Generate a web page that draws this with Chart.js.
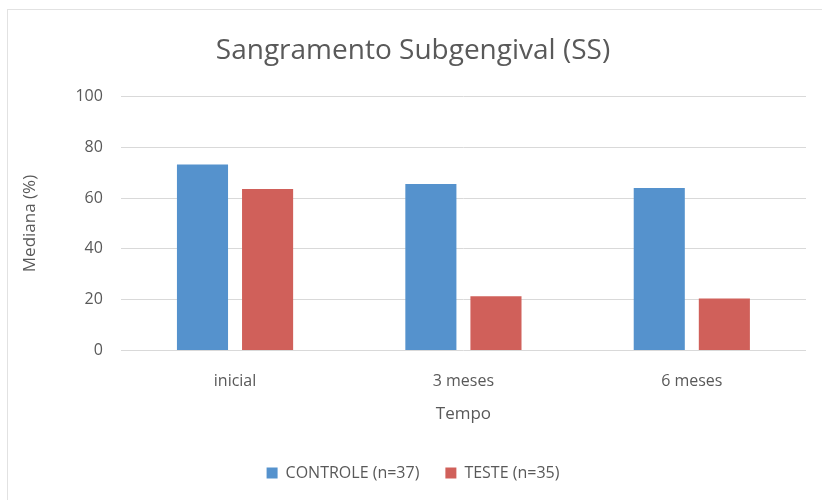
<!DOCTYPE html>
<html>
<head>
<meta charset="utf-8">
<script src="https://cdn.jsdelivr.net/npm/chart.js@4"></script>
<style>
  body { margin: 0; background: #fff; }
  #frame { position: absolute; left: 7px; top: 9px; width: 815px; height: 491px;
           border-left: 1px solid #e2e2e2; border-top: 1px solid #e2e2e2; box-sizing: border-box; }
  #wrap { position: absolute; left: 0; top: 0; width: 822px; height: 500px; }
</style>
</head>
<body>
<div id="frame"></div>
<div id="wrap"><canvas id="myChart" width="822" height="500"></canvas></div>
<script>
const labels = ['inicial', '3 meses', '6 meses'];
const controle = [73.2, 65.6, 64.0];
const teste = [63.6, 21.3, 20.4];

const font = "'Open Sans', 'Noto Sans', sans-serif";
const grey = '#595959';

const ctx = document.getElementById('myChart').getContext('2d');
const chart = new Chart(ctx, {
    type: 'bar',
    data: {
        labels: labels,
        datasets: [{
            label: 'CONTROLE (n=37)',
            data: controle,
            backgroundColor: '#5592cd',
            borderWidth: 0
        }, {
            label: 'TESTE (n=35)',
            data: teste,
            backgroundColor: '#d0605a',
            borderWidth: 0
        }]
    },
    options: {
        responsive: false,
        animation: false,
        layout: { padding: { left: 20, right: 16, top: 34, bottom: 9 } },
        categoryPercentage: 0.57,
        barPercentage: 0.785,
        plugins: {
            title: {
                display: true,
                text: 'Sangramento Subgengival (SS)',
                color: grey,
                font: { family: font, size: 28, weight: 'normal' },
                padding: { top: 0, bottom: 29 }
            },
            legend: {
                position: 'bottom',
                labels: {
                    color: grey,
                    font: { family: font, size: 16 },
                    boxWidth: 11,
                    boxHeight: 11,
                    padding: 26
                }
            },
            tooltip: { enabled: false }
        },
        scales: {
            x: {
                grid: { display: false },
                border: { display: false },
                ticks: { color: grey, font: { family: font, size: 16 }, padding: 13 },
                title: {
                    display: true,
                    text: 'Tempo',
                    color: grey,
                    font: { family: font, size: 17 },
                    padding: { top: 0, bottom: 15 }
                }
            },
            y: {
                min: 0,
                max: 100,
                beginAtZero: true,
                ticks: { stepSize: 20, color: grey, font: { family: font, size: 16 }, padding: 18 },
                grid: { color: '#d9d9d9', lineWidth: 1, drawTicks: false },
                border: { display: false },
                title: {
                    display: true,
                    text: 'Mediana (%)',
                    color: grey,
                    font: { family: font, size: 17 },
                    padding: { top: 0, bottom: 17 }
                }
            }
        }
    }
});
</script>
</body>
</html>
